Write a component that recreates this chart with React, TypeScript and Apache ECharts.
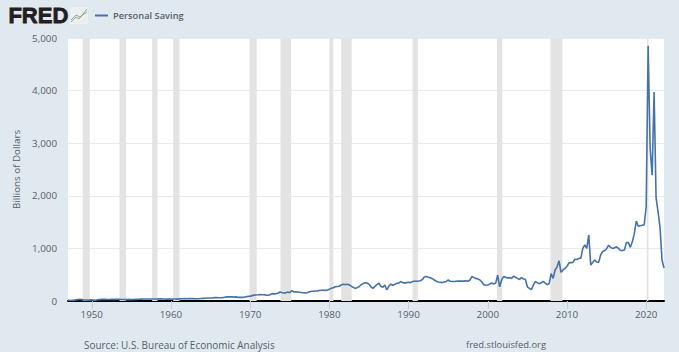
import React, { useEffect, useRef } from "react";
import * as echarts from "echarts";

const seriesName = "Personal Saving";
const yAxisName = "Billions of Dollars";
const sourceText = "Source: U.S. Bureau of Economic Analysis";
const siteText = "fred.stlouisfed.org";
const logoText = "FRED";
const yearTicks = [1950, 1960, 1970, 1980, 1990, 2000, 2010, 2020];
const firstYear = 1947;
const lastYear = 2022.25;

// quarterly values, one row per year, starting at 1947 Q1
const quarterlySaving = [
  18, 8, 14, 12,
  22, 28, 30, 28,
  20, 18, 16, 17,
  25, 16, 14, 24,
  27, 30, 32, 30,
  28, 28, 30, 30,
  30, 32, 32, 29,
  28, 27, 27, 30,
  26, 28, 30, 31,
  33, 35, 37, 37,
  37, 38, 38, 37,
  38, 38, 41, 41,
  38, 38, 36, 37,
  36, 37, 37, 35,
  40, 42, 44, 46,
  44, 45, 45, 45,
  43, 42, 43, 48,
  50, 52, 56, 58,
  58, 58, 64, 65,
  62, 62, 64, 70,
  78, 78, 78, 80,
  74, 78, 68, 70,
  68, 70, 82, 88,
  90, 102, 112, 115,
  118, 122, 120, 118,
  112, 108, 118, 140,
  136, 140, 148, 172,
  160, 152, 154, 172,
  158, 200, 172, 176,
  172, 166, 162, 158,
  152, 160, 176, 184,
  184, 190, 192, 200,
  204, 204, 202, 210,
  222, 244, 252, 272,
  276, 280, 306, 320,
  312, 318, 308, 284,
  260, 240, 254, 272,
  310, 330, 348, 342,
  320, 270, 240, 278,
  310, 340, 280, 260,
  305, 210, 280, 320,
  300, 315, 335, 340,
  370, 350, 340, 350,
  355, 350, 370, 375,
  375, 380, 385, 410,
  460, 465, 450, 440,
  425, 400, 375, 360,
  355, 350, 360, 370,
  400, 375, 370, 370,
  375, 380, 378, 380,
  378, 385, 375, 400,
  465, 445, 430, 420,
  400, 360, 310, 300,
  305, 325, 340, 325,
  340, 490, 270, 400,
  465, 450, 440, 445,
  430, 470, 450, 430,
  410, 445, 420, 410,
  270, 240, 215, 300,
  370, 350, 330, 345,
  375, 340, 310, 330,
  520, 430, 590, 650,
  765, 545, 590, 620,
  660, 725, 730, 735,
  795, 790, 810, 815,
  1000, 1065, 1000, 1255,
  685, 730, 780, 740,
  735, 875, 940, 960,
  990, 1060, 1020, 1000,
  1010, 1030, 1000, 960,
  960, 970, 1110, 1110,
  1020, 1125, 1280, 1520,
  1420, 1430, 1440, 1450,
  1790, 4850, 2900, 2390,
  3975, 1960, 1700, 1400,
  780, 625,
];

const recessions = [
  [1948.87, 1949.75],
  [1953.5, 1954.33],
  [1957.62, 1958.29],
  [1960.29, 1961.08],
  [1969.92, 1970.83],
  [1973.83, 1975.17],
  [1980.0, 1980.5],
  [1981.5, 1982.83],
  [1990.5, 1991.17],
  [2001.17, 2001.83],
  [2007.92, 2009.42],
  [2020.08, 2020.29],
];

const textColor = "#555f66";

export default function App() {
  const ref = useRef<HTMLDivElement>(null);
  useEffect(() => {
    document.body.style.margin = "0";
    const chart = echarts.init(ref.current!, undefined, { renderer: "svg" });
    chart.setOption({
      animation: false,
      backgroundColor: "#e1e9f0",
      textStyle: { fontFamily: "Open Sans", color: textColor },
      grid: { left: 68, right: 15, top: 38, bottom: 51, backgroundColor: "#ffffff", show: true, borderWidth: 0 },
      legend: {
        data: [seriesName],
        left: 93,
        top: 9,
        icon: "rect",
        itemWidth: 13,
        itemHeight: 2,
        itemGap: 4,
        padding: [2, 2],
        textStyle: { fontFamily: "Open Sans", fontSize: 9.3, fontWeight: 600, color: "#555f66" },
      },
      xAxis: {
        type: "value",
        min: firstYear,
        max: lastYear,
        splitLine: { show: false },
        axisLine: { show: true, onZero: false, lineStyle: { color: "#000000", width: 2 } },
        axisTick: { show: true, customValues: yearTicks, length: 8, lineStyle: { color: "#c0d0e0" } },
        axisLabel: {
          customValues: yearTicks,
          formatter: (v: number) => String(v),
          fontFamily: "Open Sans",
          fontSize: 9.8,
          color: textColor,
          margin: 8,
        },
      },
      yAxis: {
        type: "value",
        min: 0,
        max: 5000,
        interval: 1000,
        name: yAxisName,
        nameLocation: "middle",
        nameGap: 47,
        nameTextStyle: { fontFamily: "Open Sans", fontSize: 9.8, color: textColor },
        axisLine: { show: false },
        axisTick: { show: false },
        splitLine: { lineStyle: { color: "#e9e9e9", width: 1 } },
        axisLabel: {
          formatter: (v: number) => v.toLocaleString("en-US"),
          fontFamily: "Open Sans",
          fontSize: 9.8,
          color: textColor,
          margin: 11,
        },
      },
      series: [
        {
          name: seriesName,
          type: "line",
          showSymbol: false,
          symbol: "none",
          color: "#4572a7",
          lineStyle: { color: "#4572a7", width: 1.6 },
          data: quarterlySaving.map((v, i) => [firstYear + i / 4, v]),
          markArea: {
            silent: true,
            itemStyle: { color: "#e3e3e3" },
            data: recessions.map(([a, b]) => [{ xAxis: a }, { xAxis: b }]),
          },
          z: 3,
        },
      ],
      graphic: [
        {
          type: "text",
          left: 8,
          top: 4,
          style: {
            text: logoText,
            fontFamily: "Liberation Sans",
            fontWeight: "bold",
            fontSize: 22,
            fill: "#231f20",
            stroke: "#231f20",
            lineWidth: 0.8,
          },
        },
        {
          type: "group",
          x: 70,
          y: 7,
          children: [
            { type: "rect", shape: { x: 0, y: 0, width: 18, height: 17 }, style: { fill: "#eef0ee" } },
            { type: "polyline", shape: { points: [[1, 15], [6, 10], [9, 12], [17, 2]] }, style: { stroke: "#8fb27a", lineWidth: 1, fill: "none" } },
            { type: "polyline", shape: { points: [[1, 13], [6, 8], [10, 10], [17, 5]] }, style: { stroke: "#8aa4bd", lineWidth: 1, fill: "none" } },
          ],
        },
        {
          type: "text",
          left: 84,
          top: 340,
          style: { text: sourceText, fontFamily: "Open Sans", fontSize: 9.95, fill: textColor },
        },
        {
          type: "text",
          left: 466,
          top: 340,
          style: { text: siteText, fontFamily: "Open Sans", fontSize: 9.4, fill: textColor },
        },
      ],
    });
    return () => chart.dispose();
  }, []);
  return <div ref={ref} style={{ width: 679, height: 352 }} />;
}
